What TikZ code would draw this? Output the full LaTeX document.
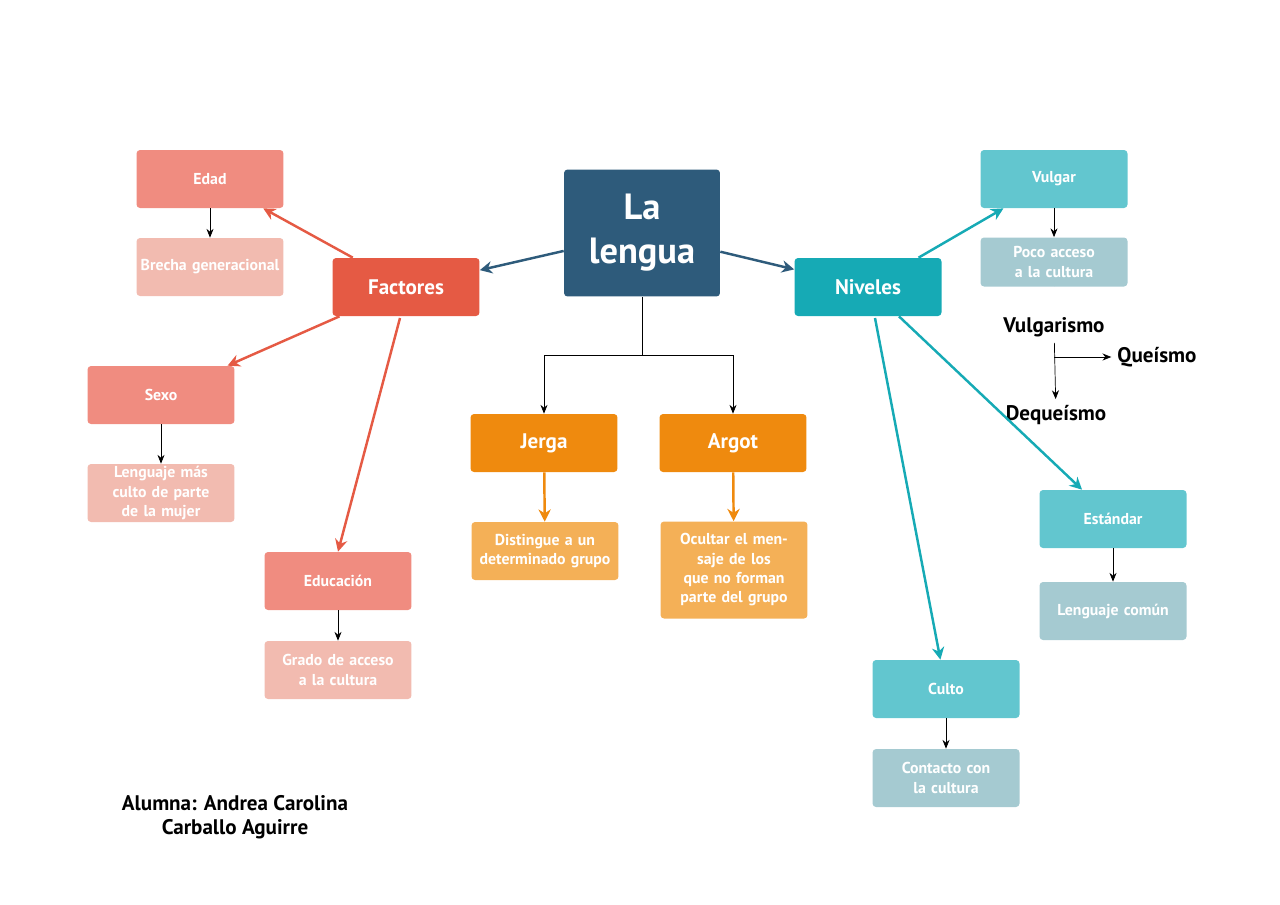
\documentclass[tikz,border=0pt]{standalone}
\usepackage{fontspec}
\setmainfont{PT Sans}
\usetikzlibrary{arrows.meta}
\definecolor{navy}{HTML}{2E5B7B}
\definecolor{redA}{HTML}{E55A44}
\definecolor{redB}{HTML}{F08C80}
\definecolor{redC}{HTML}{F2BBB0}
\definecolor{tealA}{HTML}{16AAB5}
\definecolor{tealB}{HTML}{62C6CF}
\definecolor{tealC}{HTML}{A5CAD1}
\definecolor{orgA}{HTML}{EF8A0E}
\definecolor{orgB}{HTML}{F4B057}
\tikzset{
  box/.style={rounded corners=2pt, minimum width=2.94cm, minimum height=1.16cm, text width=2.8cm, align=center, text=white, font=\bfseries\small, inner sep=1pt},
  link/.style={line width=1.4pt, -{Stealth[length=7pt,width=7pt]}},
  small/.style={thin, -{Stealth[length=5pt,width=4pt]}},
  word/.style={font=\bfseries\large}
}
\begin{document}
\begin{tikzpicture}[x=0.02cm, y=-0.02cm]
    \useasboundingbox (0,0) rectangle (1280,904);
    \begin{scope}[every node/.style={box}]
        \node [fill=navy, minimum width=3.12cm, minimum height=2.54cm, font=\bfseries\huge] (L) at (642,233) {La\\lengua};
        \node [fill=redA, font=\bfseries\large] (F) at (406,287) {Factores};
        \node [fill=tealA, font=\bfseries\large] (N) at (868,287) {Niveles};
        \node [fill=redB] (Ed) at (210,179) {Edad};
        \node [fill=redC] (Br) at (210,267) {Brecha generacional};
        \node [fill=redB] (Sx) at (161,395) {Sexo};
        \node [fill=redC] (Lm) at (161,493) {Lenguaje más culto de parte de la mujer};
        \node [fill=redB] (Eu) at (338,581) {Educación};
        \node [fill=redC] (Ga) at (338,670) {Grado de acceso a la cultura};
        \node [fill=orgA, font=\bfseries\large] (J) at (544,443) {Jerga};
        \node [fill=orgA, font=\bfseries\large] (A) at (733,443) {Argot};
        \node [fill=orgB] (Di) at (545,551) {Distingue a un determinado grupo};
        \node [fill=orgB, minimum height=1.94cm] (Oc) at (734,570) {Ocultar el mensaje de los que no forman parte del grupo};
        \node [fill=tealB] (V) at (1054,179) {Vulgar};
        \node [fill=tealC, minimum height=0.98cm] (Pa) at (1054,262) {Poco acceso a la cultura};
        \node [fill=tealB] (Es) at (1113,519) {Estándar};
        \node [fill=tealC] (Lc) at (1113,611) {Lenguaje común};
        \node [fill=tealB] (Cu) at (946,689) {Culto};
        \node [fill=tealC] (Cc) at (946,778) {Contacto con la cultura};
    \end{scope}
    \node [word] (Vg) at (1054,327) {Vulgarismo};
    \node [word] (Qu) at (1157,357) {Queísmo};
    \node [word] (Dq) at (1056,415) {Dequeísmo};
    \node [word, align=center] (Al) at (235,817) {Alumna: Andrea Carolina\\Carballo Aguirre};
    \coordinate (Q0) at (1054,357);
    \coordinate (T0) at (642,355);
    \coordinate (F1) at (400,318);
    \coordinate (N1) at (875,318);
    \begin{scope}[every path/.style={link}]
        \path [draw=navy] (L) -- (F);
        \path [draw=navy] (L) -- (N);
        \path [draw=redA] (F) -- (Ed);
        \path [draw=redA] (F) -- (Sx);
        \path [draw=redA] (F1) -- (Eu.north);
        \path [draw=tealA] (N) -- (V);
        \path [draw=tealA] (N) -- (Es);
        \path [draw=tealA] (N1) -- (Cu);
        \path [draw=orgA] (J) -- (Di);
        \path [draw=orgA] (A) -- (Oc);
    \end{scope}
    \begin{scope}[every path/.style={small}]
        \draw [-] (L) -- (T0);
        \draw (T0) -| (J);
        \draw (T0) -| (A);
        \draw (Ed) -- (Br);
        \draw (Sx) -- (Lm);
        \draw (Eu) -- (Ga);
        \draw (V) -- (Pa);
        \draw (Es) -- (Lc);
        \draw (Cu) -- (Cc);
        \draw (Vg) -- (Dq);
        \draw (Q0) -- (Qu);
    \end{scope}
    \draw [double, thin] (Pa) -- (Vg);
\end{tikzpicture}
\end{document}
